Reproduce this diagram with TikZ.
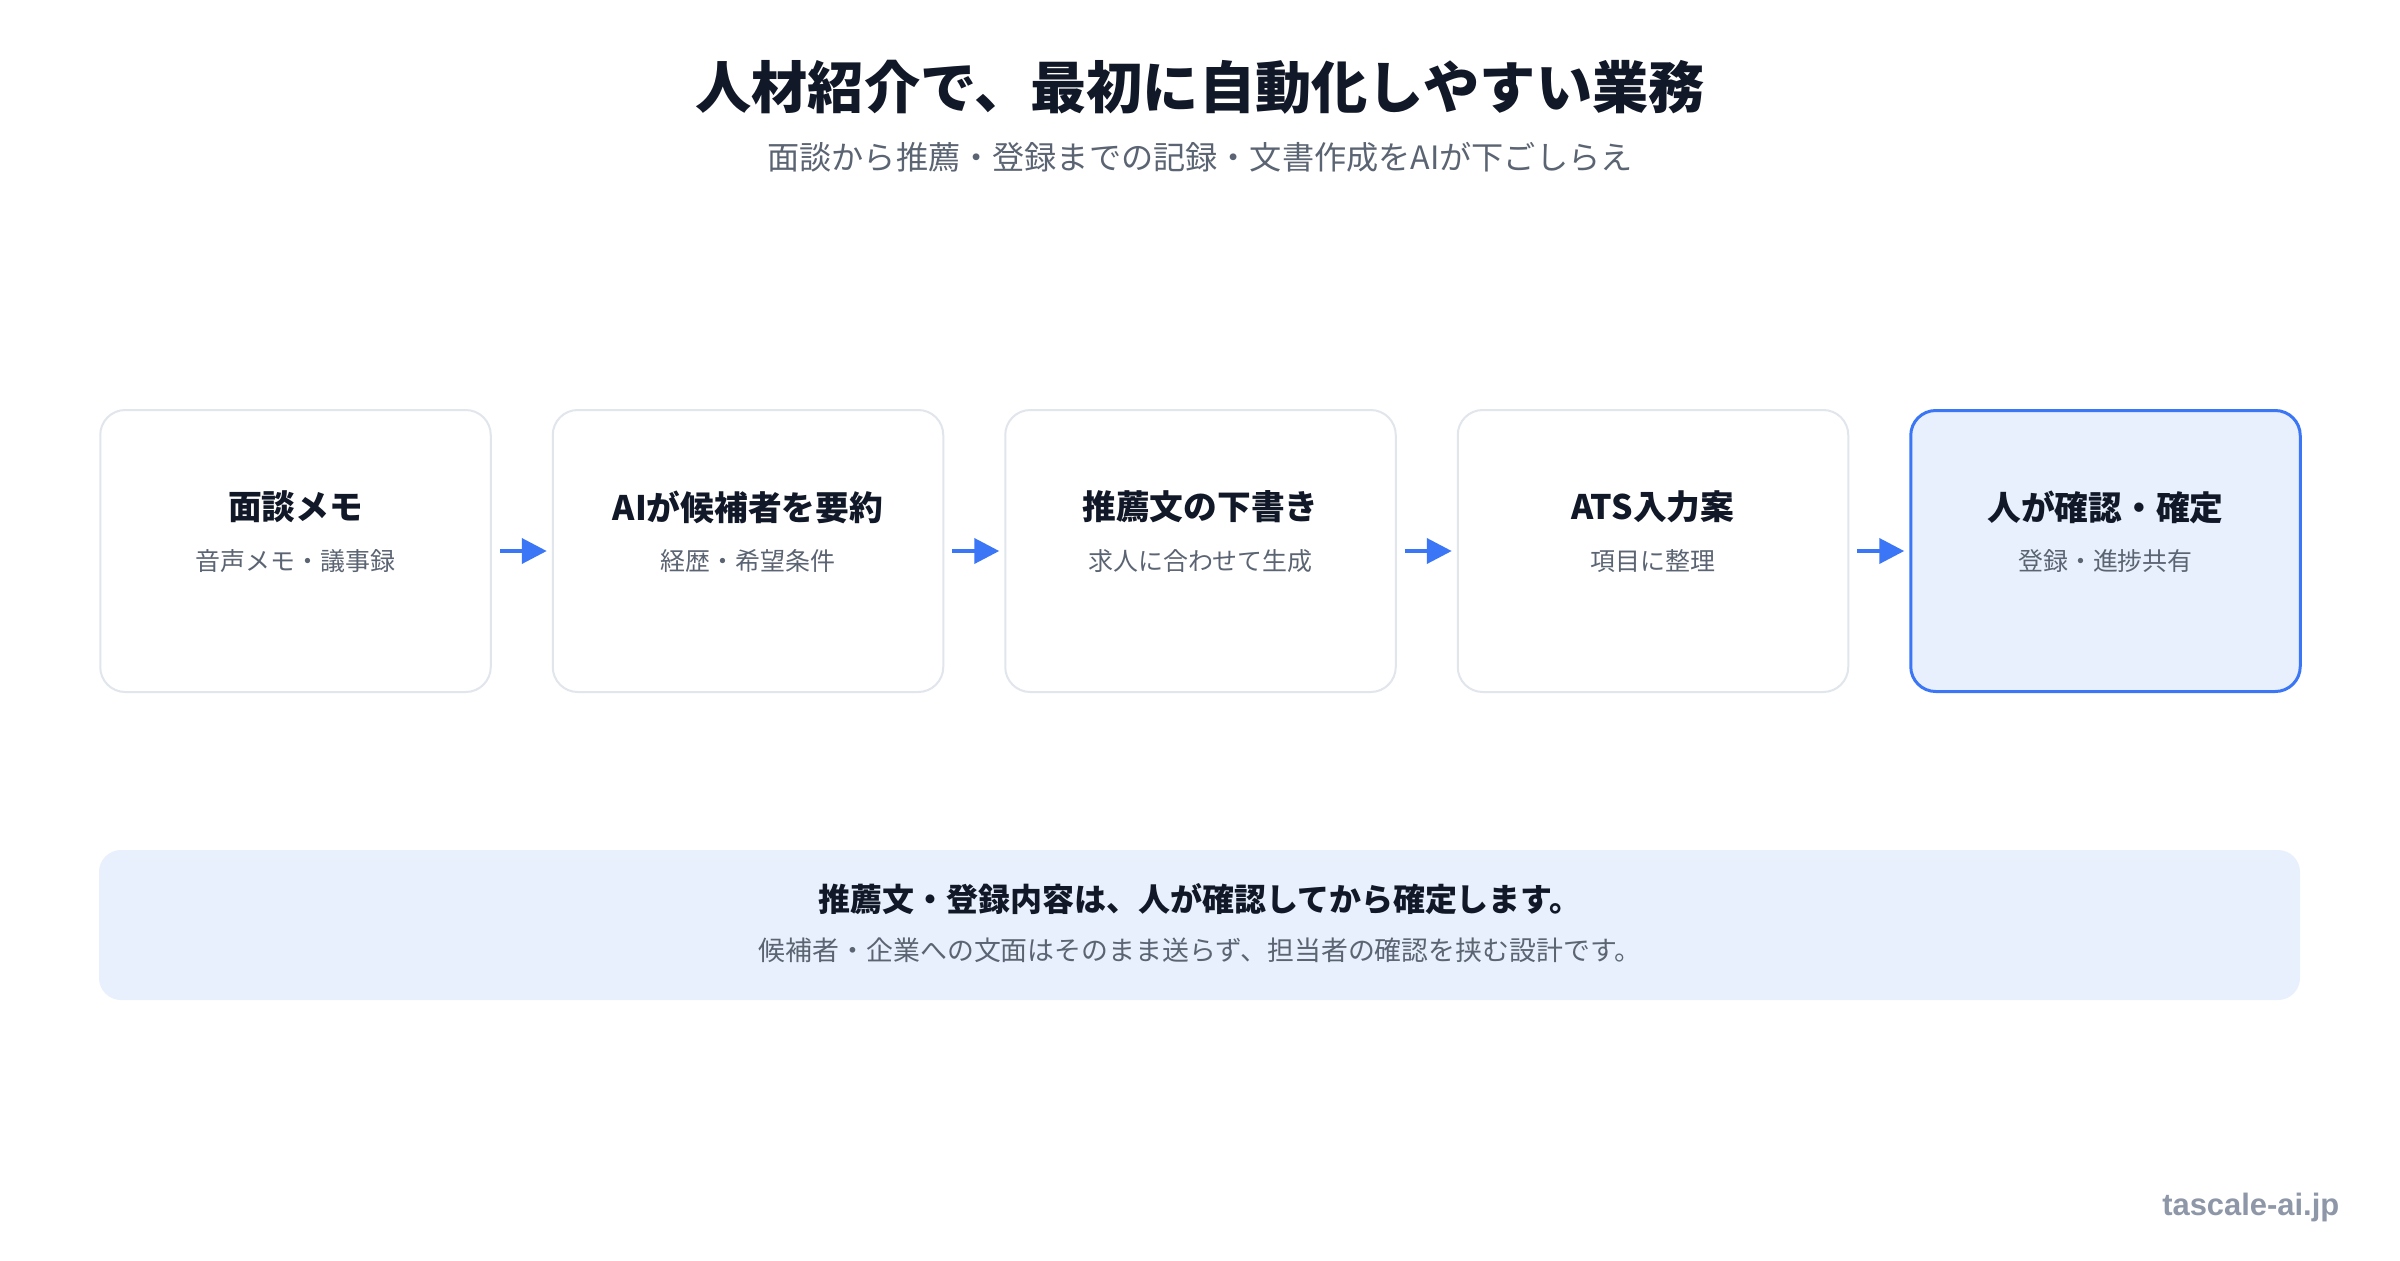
\documentclass[tikz,border=0pt]{standalone}
\usepackage{fontspec}
\setmainfont{Noto Sans CJK JP}
\newfontfamily\sitefont{Liberation Sans}
\usetikzlibrary{positioning,arrows.meta}
\definecolor{ink}{HTML}{111827}
\definecolor{subgray}{HTML}{5B6472}
\definecolor{edgegray}{HTML}{E1E5EC}
\definecolor{accent}{HTML}{3B76F6}
\definecolor{paleblue}{HTML}{E8F0FD}
\definecolor{sitegray}{HTML}{8E97A8}
\tikzset{
  stepbox/.style={draw=edgegray, line width=0.2mm, fill=white, rounded corners=2.5mm,
    minimum width=39.05mm, minimum height=28.2mm, inner sep=0pt},
  keybox/.style={stepbox, draw=accent, line width=0.3mm, fill=paleblue,
    minimum width=38.95mm, minimum height=28.1mm},
  boxhead/.style={font=\fontsize{9.6}{11}\selectfont\bfseries, text=ink, inner sep=0pt},
  boxnote/.style={font=\fontsize{7.1}{9}\selectfont, text=subgray, inner sep=0pt},
  flow/.style={-{Triangle[length=2.5mm, width=2.5mm]}, line width=0.4mm, accent},
}
\begin{document}
\begin{tikzpicture}[x=0.1mm, y=-0.1mm, node distance=6mm]
	\useasboundingbox[fill=white] (0,0) rectangle (2400,1260);
	% title
	\node[font=\fontsize{16}{19}\selectfont\bfseries, text=ink] (title) at (1200,87) {人材紹介で、最初に自動化しやすい業務};
	\node[font=\fontsize{9.15}{11}\selectfont, text=subgray] (subtitle) at (1200,157) {面談から推薦・登録までの記録・文書作成をAIが下ごしらえ};
	% steps
	\node[stepbox] (s1) at (295.5,551) {};
	\node[stepbox, right=of s1] (s2) {};
	\node[stepbox, right=of s2] (s3) {};
	\node[stepbox, right=of s3] (s4) {};
	\node[keybox, right=of s4] (s5) {};
	\foreach \n/\head/\note in {s1/面談メモ/音声メモ・議事録, s2/AIが候補者を要約/経歴・希望条件,
	    s3/推薦文の下書き/求人に合わせて生成, s4/ATS入力案/項目に整理, s5/人が確認・確定/登録・進捗共有}{
		\node[boxhead] at ([yshift=4.4mm]\n.center) {\head};
		\node[boxnote] at ([yshift=-1mm]\n.center) {\note};
	}
	\foreach \a/\b in {s1/s2, s2/s3, s3/s4, s4/s5}
		\draw[flow] ([xshift=0.8mm]\a.east) -- ([xshift=-0.5mm]\b.west);
	% note panel
	\node[fill=paleblue, rounded corners=2.2mm, minimum width=220.1mm, minimum height=15mm, inner sep=0pt] (panel) at (1199.5,925) {};
	\node[font=\fontsize{9.1}{11}\selectfont\bfseries, text=ink] (panelhead) at (1200,899) {推薦文・登録内容は、人が確認してから確定します。};
	\node[font=\fontsize{7.65}{9}\selectfont, text=subgray] (panelnote) at (1200,950) {候補者・企業への文面はそのまま送らず、担当者の確認を挟む設計です。};
	% footer
	\node[font=\sitefont\fontsize{8.8}{10}\selectfont\bfseries, text=sitegray, anchor=east, inner sep=0pt] (site) at (2340,1207) {tascale-ai.jp};
\end{tikzpicture}
\end{document}
